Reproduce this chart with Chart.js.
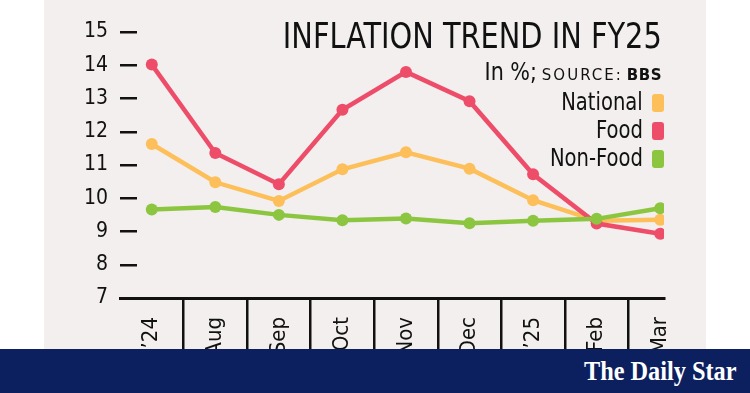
<!DOCTYPE html>
<html><head><meta charset="utf-8">
<script src="https://cdn.jsdelivr.net/npm/chart.js@4"></script>
<style>
html,body{margin:0;padding:0;background:#fff;width:750px;height:393px;overflow:hidden;}
#panel{position:absolute;left:44px;top:0;width:662px;height:349px;background:#f2efee;}
#wrap{position:absolute;left:0;top:0;width:750px;height:393px;}
#band{position:absolute;left:0;top:349px;width:750px;height:44px;background:#0c1f5f;}
#brand{position:absolute;right:13px;top:4px;color:#fff;font-family:'Liberation Serif','DejaVu Serif',serif;font-weight:bold;font-size:27px;line-height:36px;transform:scaleX(0.9);transform-origin:right center;white-space:nowrap;}
.cond{font-family:'Liberation Sans Narrow','DejaVu Sans Condensed','Open Sans',sans-serif;color:#111;}
#title{position:absolute;right:88px;top:14px;font-size:36px;line-height:44px;white-space:nowrap;transform:scaleX(0.89);transform-origin:right center;}
#sub{position:absolute;right:88px;top:58px;white-space:nowrap;line-height:28px;}
#sub .a{font-size:25px;display:inline-block;transform:scaleX(0.92);transform-origin:right center;}
#sub .b{font-family:'DejaVu Sans',sans-serif;font-size:15px;letter-spacing:2px;margin-left:5px;}
#sub .c{font-family:'DejaVu Sans',sans-serif;font-weight:bold;font-size:15px;letter-spacing:0.5px;margin-left:4px;}
#legend{position:absolute;right:86px;top:88px;text-align:right;}
#legend div{font-size:25px;line-height:28px;white-space:nowrap;}
#legend span.t{display:inline-block;transform:scaleX(0.87);transform-origin:right center;}
#legend span.sw{display:inline-block;width:12px;height:18px;border-radius:3px;margin-left:9px;vertical-align:-2px;}
</style></head>
<body>
<div id="panel"></div>
<div id="wrap"><canvas id="c" width="750" height="393"></canvas></div>
<div id="title" class="cond">INFLATION TREND IN FY25</div>
<div id="sub" class="cond"><span class="a">In %;</span><span class="b">SOURCE:</span><span class="c">BBS</span></div>
<div id="legend" class="cond"></div>
<div id="band"><div id="brand">The Daily Star</div></div>
<script>
const categories = ["Jul\u201924","Aug","Sep","Oct","Nov","Dec","Jan\u201925","Feb","Mar"];
const national = [11.63, 10.48, 9.92, 10.87, 11.38, 10.89, 9.94, 9.32, 9.35];
const food = [14.02, 11.36, 10.42, 12.66, 13.80, 12.92, 10.72, 9.24, 8.93];
const nonFood = [9.66, 9.74, 9.50, 9.34, 9.39, 9.25, 9.32, 9.38, 9.70];
const seriesNames = ["National","Food","Non-Food"];
const seriesColors = ["#fdbf5a","#ee4d69","#8cc641"];
const yTicks = [7,8,9,10,11,12,13,14,15];

const COND = "'Liberation Sans Narrow','DejaVu Sans Condensed','Open Sans',sans-serif";
const toPts = arr => arr.map((v,i)=>({x:i,y:v}));
const allSeries = [national, food, nonFood];

const leg = document.getElementById('legend');
seriesNames.forEach((n,i)=>{
  const d=document.createElement('div');
  d.innerHTML = '<span class="t">' + n + '</span><span class="sw" style="background:'+seriesColors[i]+'"></span>';
  leg.appendChild(d);
});

new Chart(document.getElementById('c'), {
  type:'line',
  data:{
    datasets: allSeries.map((arr,i)=>({
      label: seriesNames[i],
      data: toPts(arr),
      borderColor: seriesColors[i],
      backgroundColor: seriesColors[i],
      borderWidth: 4.5,
      pointRadius: 6,
      pointBorderWidth: 0,
      tension: 0,
      order: 3-i
    }))
  },
  options:{
    responsive:false,
    animation:false,
    layout:{padding:{left:80,right:86,top:32,bottom:0}},
    plugins:{legend:{display:false},tooltip:{enabled:false},title:{display:false}},
    scales:{
      x:{
        type:'linear', min:-0.5, max:8.06,
        afterBuildTicks: s => { s.ticks = []; for(let k=0;k<categories.length*2-1;k++) s.ticks.push({value:k/2}); },
        afterFit: s => { s.height = 95; s.paddingLeft = 0; s.paddingRight = 0; },
        grid:{drawOnChartArea:false, tickLength:70, lineWidth:2.5,
          color: ctx => (ctx.tick && Number.isInteger(ctx.tick.value)) ? 'rgba(0,0,0,0)' : '#111'},
        border:{display:true, color:'#111', width:3},
        ticks:{autoSkip:false, minRotation:90, maxRotation:90, padding:-51, color:'#111',
          font:{family:COND, size:22},
          callback: v => Number.isInteger(v) ? categories[v] : ''}
      },
      y:{
        min:7, max:15,
        afterBuildTicks: s => { s.ticks = yTicks.map(v=>({value:v})); },
        afterFit: s => { s.width = 40; s.paddingTop = 0; s.paddingBottom = 0; },
        grid:{drawOnChartArea:false, tickLength:-17, lineWidth:2.5, color:'#111'},
        border:{display:false},
        ticks:{padding:29, color:'#111', font:{family:COND, size:21}}
      }
    }
  }
});
</script>
</body></html>
